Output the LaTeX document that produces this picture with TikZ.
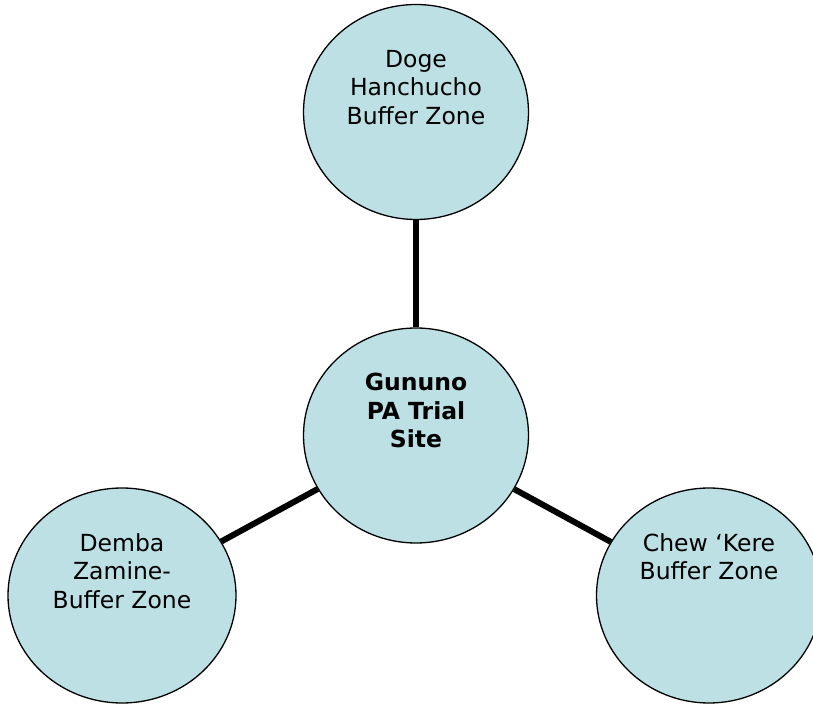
\documentclass[tikz,border=0pt]{standalone}
\usepackage{fontspec}
\setmainfont{DejaVu Sans}
\usetikzlibrary{shapes.geometric,positioning}
\definecolor{zonefill}{RGB}{188,224,228}
\newcommand{\zonefont}{\fontsize{23.5}{28.5}\selectfont}
\tikzstyle{zone}=[ellipse,draw,line width=1.3pt,fill=zonefill,minimum width=225pt,minimum height=215pt,inner sep=0pt,on grid]
\tikzstyle{zonetext}=[align=center,inner sep=0pt,font=\zonefont]
\tikzstyle{link}=[line width=6pt]

\begin{document}
\begin{tikzpicture}[x=1pt,y=1pt]
  \useasboundingbox (0,0) rectangle (813,704);
  \node (gununo) [zone] at (416,268.5) {};
  \node (doge) [zone] [above=323.5pt of gununo] {};
  \node (demba) [zone,minimum width=228pt] [below left=160pt and 294pt of gununo] {};
  \node (chew) [zone] [below right=160pt and 293pt of gununo] {};

  \path (gununo) edge[link] (doge);
  \path (gununo) edge[link] (demba);
  \path (gununo) edge[link] (chew);

  \node (gununotxt) [zonetext,font=\zonefont\bfseries,below=46pt of gununo.north] {Gununo\\PA Trial\\Site};
  \node (dogetxt) [zonetext,below=46pt of doge.north] {Doge\\Hanchucho\\Buffer Zone};
  \node (dembatxt) [zonetext,below=46pt of demba.north] {Demba\\Zamine-\\Buffer Zone};
  \node (chewtxt) [zonetext,below=46pt of chew.north] {Chew ‘Kere\\Buffer Zone};
\end{tikzpicture}
\end{document}
